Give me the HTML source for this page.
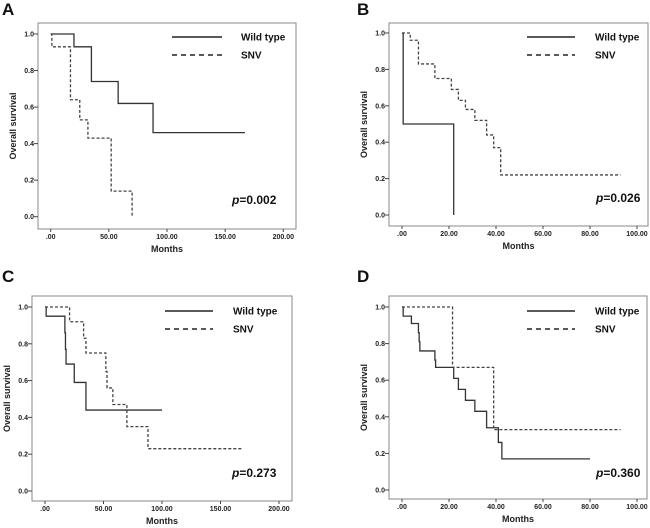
<!DOCTYPE html>
<html><head><meta charset="utf-8"><style>
body{margin:0;background:#fff;}
svg{display:block;font-family:"Liberation Sans",Arial,sans-serif;}
</style></head><body>
<svg id="fig" width="650" height="528" viewBox="0 0 650 528"></svg>
<script>
// Panel A
const aWildT=[0,20,35,58,88,167];
const aWildS=[1,0.93,0.74,0.62,0.46,0.46];
const aSnvT=[0,1,17,25,32,52,70,70];
const aSnvS=[1,0.93,0.64,0.53,0.43,0.14,0.14,0];
// Panel B
const bWildT=[0,0.5,22,22];
const bWildS=[1,0.5,0.5,0];
const bSnvT=[0,3.5,7,14,21,24,27,31,36,39,42,93];
const bSnvS=[1,0.96,0.83,0.75,0.69,0.63,0.58,0.52,0.44,0.37,0.22,0.22];
// Panel C
const cWildT=[0,1,17,17.5,18,25,35,100];
const cWildS=[1,0.95,0.86,0.77,0.69,0.59,0.44,0.44];
const cSnvT=[0,21,33,35,52,53,58,70,88,168];
const cSnvS=[1,0.92,0.83,0.75,0.65,0.56,0.47,0.35,0.23,0.23];
// Panel D
const dWildT=[0,0.5,4,7,7.3,7.6,14,14.3,22,24,27,31,36,41,42.5,80];
const dWildS=[1,0.95,0.91,0.86,0.81,0.76,0.71,0.67,0.61,0.55,0.49,0.43,0.34,0.26,0.17,0.17];
const dSnvT=[0,21.5,39,93];
const dSnvS=[1,0.67,0.33,0.33];
const yTicks=[0,0.2,0.4,0.6,0.8,1.0];
const yTickLabels=["0.0","0.2","0.4","0.6","0.8","1.0"];
const xTicks200=[0,50,100,150,200];
const xLabels200=[".00","50.00","100.00","150.00","200.00"];
const xTicks100=[0,20,40,60,80,100];
const xLabels100=[".00","20.00","40.00","60.00","80.00","100.00"];

const NS="http://www.w3.org/2000/svg";
const svg=document.getElementById('fig');
function mk(tag,attrs,parent){const e=document.createElementNS(NS,tag);for(const k in attrs)e.setAttribute(k,attrs[k]);(parent||svg).appendChild(e);return e;}

const panels=[
 {id:'a',letter:'A',lx:2,ly:15,frame:[38,23,296,229],x0:50.7,x1:283.3,xmax:200,y1:34,y0:216.7,xt:xTicks200,xl:xLabels200,wT:aWildT,wS:aWildS,sT:aSnvT,sS:aSnvS,p:"0.002",px:232,py:204,leg:[172,222,241,37,55]},
 {id:'b',letter:'B',lx:357,ly:15,frame:[389,23,648,226],x0:402,x1:637,xmax:100,y1:33,y0:215,xt:xTicks100,xl:xLabels100,wT:bWildT,wS:bWildS,sT:bSnvT,sS:bSnvS,p:"0.026",px:596,py:202,leg:[527,575,595,37,55]},
 {id:'c',letter:'C',lx:2,ly:282,frame:[32,296,292,501],x0:45,x1:279,xmax:200,y1:307,y0:491,xt:xTicks200,xl:xLabels200,wT:cWildT,wS:cWildS,sT:cSnvT,sS:cSnvS,p:"0.273",px:232,py:477,leg:[165,213,233,311,329]},
 {id:'d',letter:'D',lx:357,ly:282,frame:[389,296,647,499],x0:402,x1:637,xmax:100,y1:307,y0:490,xt:xTicks100,xl:xLabels100,wT:dWildT,wS:dWildS,sT:dSnvT,sS:dSnvS,p:"0.360",px:596,py:477,leg:[527,575,595,311,329]}
];

panels.forEach(P=>{
 const g=mk('g',{});
 
 
 const sx=v=>P.x0+(P.x1-P.x0)*v/P.xmax;
 const sy=v=>P.y0+(P.y1-P.y0)*v;
 const [fx0,fy0,fx1,fy1]=P.frame;
 const t=mk('text',{x:P.lx,y:P.ly,'font-size':17,'font-weight':'bold',fill:'#111'},g);t.textContent=P.letter;
 
 const fr=mk('rect',{x:fx0,y:fy0,width:fx1-fx0,height:fy1-fy0,fill:'none',stroke:'#888','stroke-width':1},g);
 
 yTicks.forEach((v,i)=>{
  mk('line',{x1:fx0-4,x2:fx0,y1:sy(v),y2:sy(v),stroke:'#444'},g);
  const tl=mk('text',{x:fx0-4,y:sy(v)+2.5,'font-size':7,'font-weight':'bold','text-anchor':'end',fill:'#222'},g);tl.textContent=yTickLabels[i];
  
 });
 P.xt.forEach((v,i)=>{
  mk('line',{x1:sx(v),x2:sx(v),y1:fy1,y2:fy1+3,stroke:'#444'},g);
  const tl=mk('text',{x:sx(v),y:fy1+10,'font-size':7,'font-weight':'bold','text-anchor':'middle',fill:'#222'},g);tl.textContent=P.xl[i];
  
 });
 const xt=mk('text',{x:(fx0+fx1)/2,y:fy1+23,'font-size':9,'font-weight':'bold','text-anchor':'middle',fill:'#222'},g);xt.textContent='Months';
 
 const yx=fx0-22, yc=(fy0+fy1)/2;
 const yt=mk('text',{x:yx,y:yc,'font-size':9,'font-weight':'bold','text-anchor':'middle',fill:'#222',transform:`rotate(-90 ${yx} ${yc})`},g);yt.textContent='Overall survival';
 
 function curve(T,S,dash,name){
  let d=`M${sx(T[0])},${sy(S[0])}`;
  for(let i=1;i<T.length;i++){d+=` H${sx(T[i])} V${sy(S[i])}`;}
  const p=mk('path',{d:d,fill:'none',stroke:dash?'#444':'#333','stroke-width':1.3},g);
  if(dash)p.setAttribute('stroke-dasharray','3,2');
  
 }
 curve(P.wT,P.wS,false,'wild-type-curve');
 curve(P.sT,P.sS,true,'snv-curve');
 const [l0,l1,tx,ya,yb]=P.leg;
 const la=mk('line',{x1:l0,x2:l1,y1:ya,y2:ya,stroke:'#222','stroke-width':1.5},g);
 
 const lb=mk('line',{x1:l0,x2:l1,y1:yb,y2:yb,stroke:'#222','stroke-width':1.5,'stroke-dasharray':'5,4'},g);
 
 const ta=mk('text',{x:tx,y:ya+3.5,'font-size':10,'font-weight':'bold',fill:'#111'},g);ta.textContent='Wild type';
 
 const tb=mk('text',{x:tx,y:yb+3.5,'font-size':10,'font-weight':'bold',fill:'#111'},g);tb.textContent='SNV';
 
 const pv=mk('text',{x:P.px,y:P.py,'font-size':12,'font-weight':'bold',fill:'#111'},g);
 pv.innerHTML='<tspan font-style="italic">p</tspan>='+P.p;
 
});
</script>
</body></html>
